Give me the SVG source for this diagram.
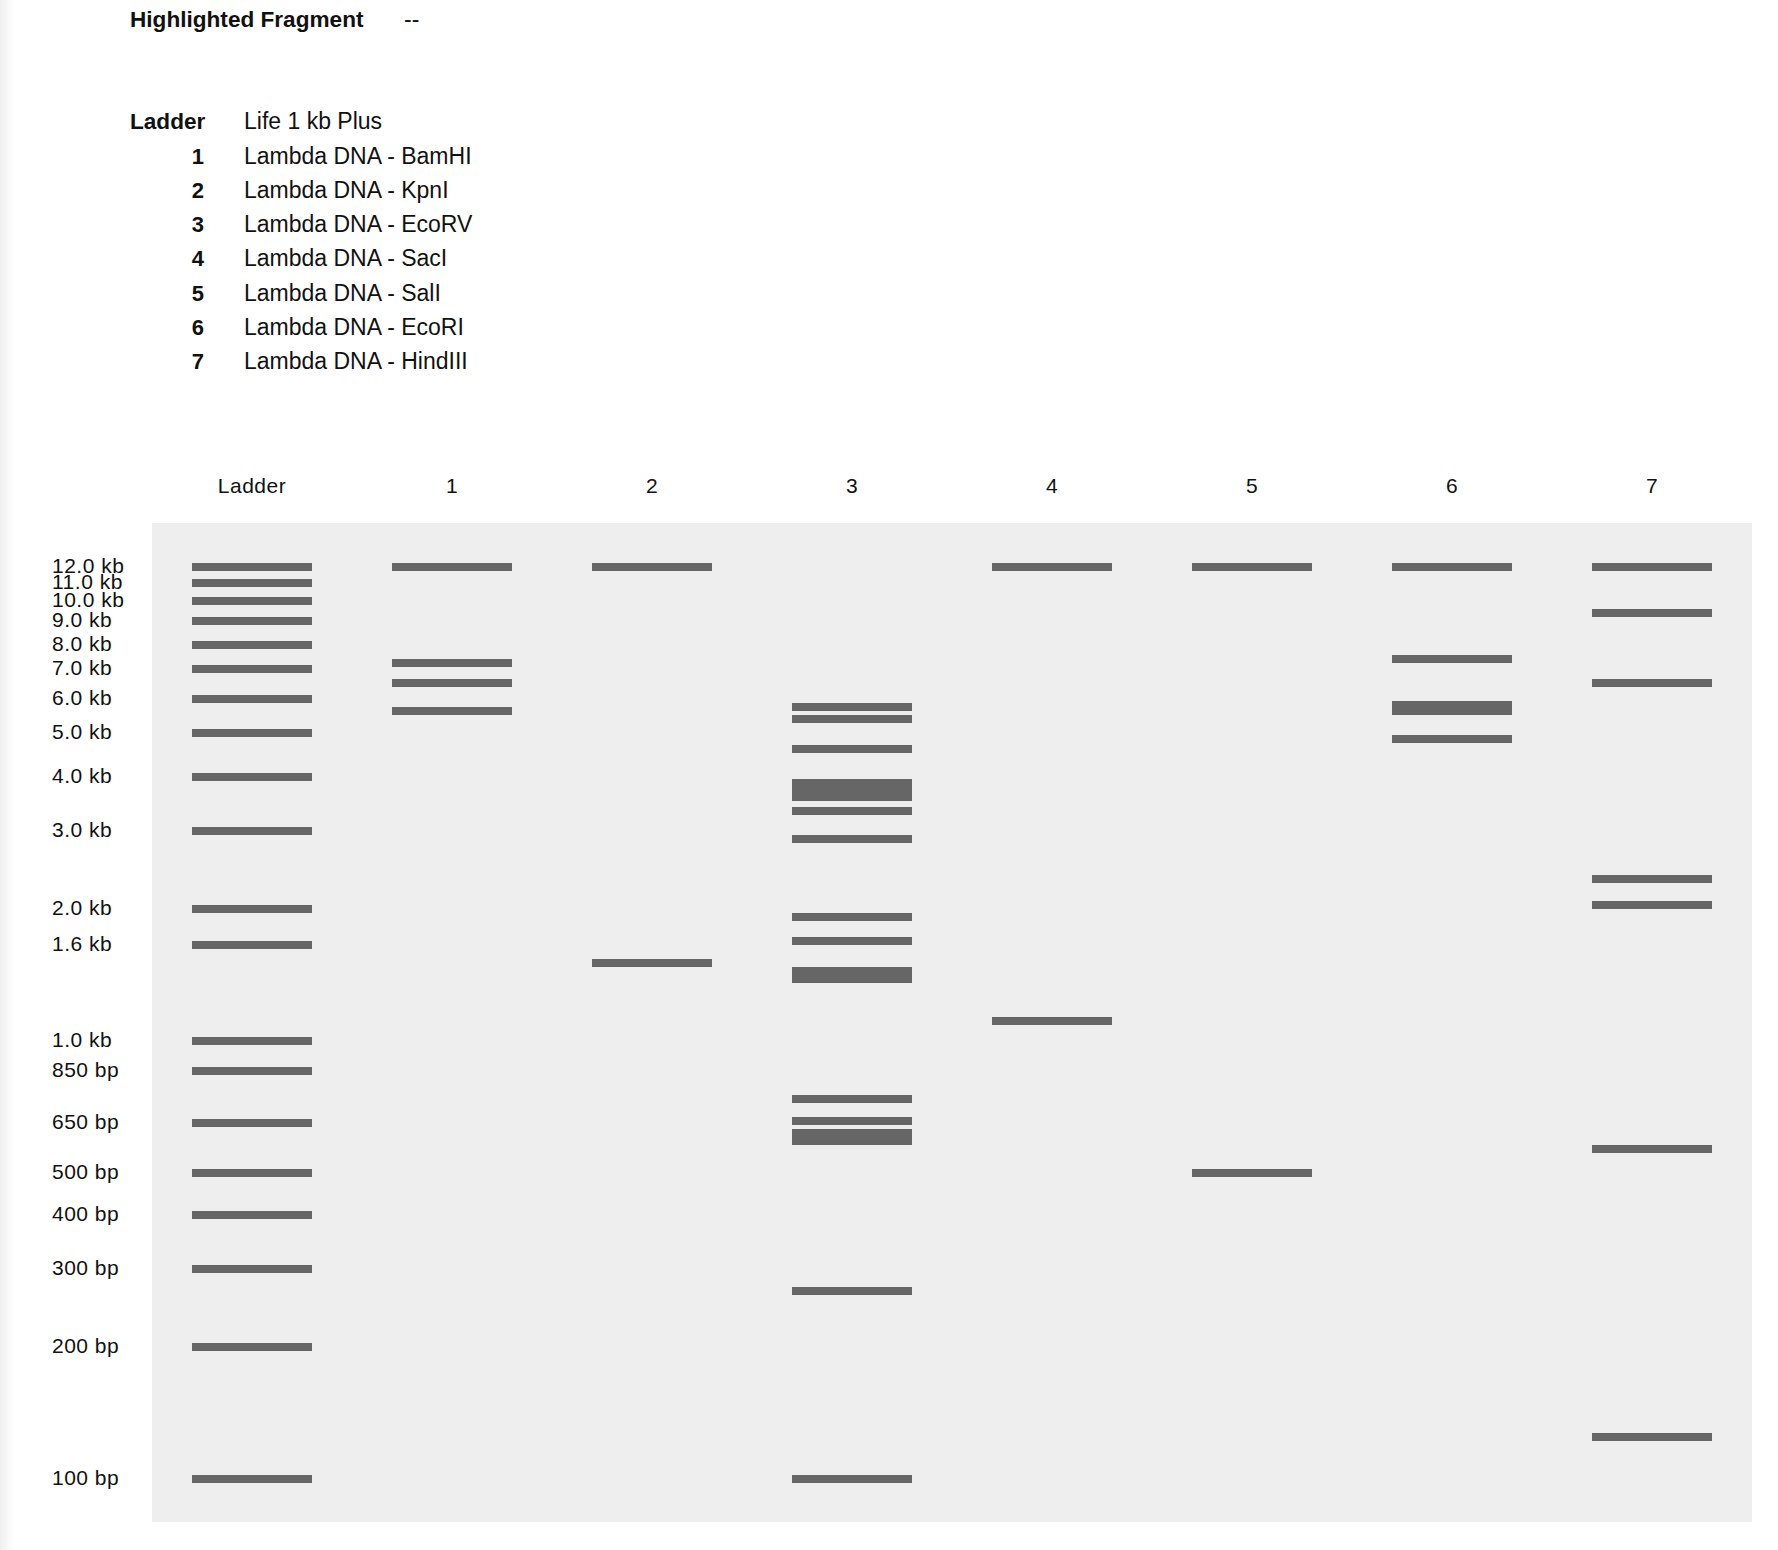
<svg xmlns="http://www.w3.org/2000/svg" width="1778" height="1550" viewBox="0 0 1778 1550">
<style>
text{font-family:"Liberation Sans",Arial,sans-serif;fill:#111}
.lg{font-size:23px}
.b{font-size:22.6px;font-weight:bold}
.num{font-size:22px;font-weight:bold;text-anchor:end}
.lane{font-size:21px;letter-spacing:0.5px;text-anchor:middle}
.sz{font-size:21px;letter-spacing:0.5px}
.band{fill:#666666}
</style>
<defs>
<linearGradient id="edge" x1="0" y1="0" x2="1" y2="0">
<stop offset="0" stop-color="#efefef"/>
<stop offset="1" stop-color="#ffffff"/>
</linearGradient>
</defs>
<rect width="1778" height="1550" fill="#ffffff"/>
<rect x="0" y="0" width="14" height="1550" fill="url(#edge)"/>
<g id="legend">
<text class="lg b" x="130" y="27">Highlighted Fragment</text>
<text class="lg" x="404" y="27">--</text>
<text class="lg b" x="130" y="129">Ladder</text>
<text class="lg" x="244" y="129">Life 1 kb Plus</text>
<text class="num" x="204" y="164">1</text><text class="lg" x="244" y="164">Lambda DNA - BamHI</text>
<text class="num" x="204" y="198">2</text><text class="lg" x="244" y="198">Lambda DNA - KpnI</text>
<text class="num" x="204" y="232">3</text><text class="lg" x="244" y="232">Lambda DNA - EcoRV</text>
<text class="num" x="204" y="266">4</text><text class="lg" x="244" y="266">Lambda DNA - SacI</text>
<text class="num" x="204" y="301">5</text><text class="lg" x="244" y="301">Lambda DNA - SalI</text>
<text class="num" x="204" y="335">6</text><text class="lg" x="244" y="335">Lambda DNA - EcoRI</text>
<text class="num" x="204" y="369">7</text><text class="lg" x="244" y="369">Lambda DNA - HindIII</text>
</g>
<g id="lane-labels">
<text class="lane" x="252" y="493">Ladder</text>
<text class="lane" x="452" y="493">1</text>
<text class="lane" x="652" y="493">2</text>
<text class="lane" x="852" y="493">3</text>
<text class="lane" x="1052" y="493">4</text>
<text class="lane" x="1252" y="493">5</text>
<text class="lane" x="1452" y="493">6</text>
<text class="lane" x="1652" y="493">7</text>
</g>
<g id="size-labels">
<text class="sz" x="52" y="573">12.0 kb</text>
<text class="sz" x="52" y="589">11.0 kb</text>
<text class="sz" x="52" y="607">10.0 kb</text>
<text class="sz" x="52" y="627">9.0 kb</text>
<text class="sz" x="52" y="651">8.0 kb</text>
<text class="sz" x="52" y="675">7.0 kb</text>
<text class="sz" x="52" y="705">6.0 kb</text>
<text class="sz" x="52" y="739">5.0 kb</text>
<text class="sz" x="52" y="783">4.0 kb</text>
<text class="sz" x="52" y="837">3.0 kb</text>
<text class="sz" x="52" y="915">2.0 kb</text>
<text class="sz" x="52" y="951">1.6 kb</text>
<text class="sz" x="52" y="1047">1.0 kb</text>
<text class="sz" x="52" y="1077">850 bp</text>
<text class="sz" x="52" y="1129">650 bp</text>
<text class="sz" x="52" y="1179">500 bp</text>
<text class="sz" x="52" y="1221">400 bp</text>
<text class="sz" x="52" y="1275">300 bp</text>
<text class="sz" x="52" y="1353">200 bp</text>
<text class="sz" x="52" y="1485">100 bp</text>
</g>
<rect id="gel" x="152" y="523" width="1600" height="999" fill="#eeeeee"/>
<g id="lane-ladder" class="band">
<rect x="192" y="563" width="120" height="8"/>
<rect x="192" y="579" width="120" height="8"/>
<rect x="192" y="597" width="120" height="8"/>
<rect x="192" y="617" width="120" height="8"/>
<rect x="192" y="641" width="120" height="8"/>
<rect x="192" y="665" width="120" height="8"/>
<rect x="192" y="695" width="120" height="8"/>
<rect x="192" y="729" width="120" height="8"/>
<rect x="192" y="773" width="120" height="8"/>
<rect x="192" y="827" width="120" height="8"/>
<rect x="192" y="905" width="120" height="8"/>
<rect x="192" y="941" width="120" height="8"/>
<rect x="192" y="1037" width="120" height="8"/>
<rect x="192" y="1067" width="120" height="8"/>
<rect x="192" y="1119" width="120" height="8"/>
<rect x="192" y="1169" width="120" height="8"/>
<rect x="192" y="1211" width="120" height="8"/>
<rect x="192" y="1265" width="120" height="8"/>
<rect x="192" y="1343" width="120" height="8"/>
<rect x="192" y="1475" width="120" height="8"/>
</g>
<g id="lane-1" class="band">
<rect x="392" y="563" width="120" height="8"/>
<rect x="392" y="659" width="120" height="8"/>
<rect x="392" y="679" width="120" height="8"/>
<rect x="392" y="707" width="120" height="8"/>
</g>
<g id="lane-2" class="band">
<rect x="592" y="563" width="120" height="8"/>
<rect x="592" y="959" width="120" height="8"/>
</g>
<g id="lane-3" class="band">
<rect x="792" y="703" width="120" height="8"/>
<rect x="792" y="715" width="120" height="8"/>
<rect x="792" y="745" width="120" height="8"/>
<rect x="792" y="779" width="120" height="22"/>
<rect x="792" y="807" width="120" height="8"/>
<rect x="792" y="835" width="120" height="8"/>
<rect x="792" y="913" width="120" height="8"/>
<rect x="792" y="937" width="120" height="8"/>
<rect x="792" y="967" width="120" height="16"/>
<rect x="792" y="1095" width="120" height="8"/>
<rect x="792" y="1117" width="120" height="8"/>
<rect x="792" y="1129" width="120" height="16"/>
<rect x="792" y="1287" width="120" height="8"/>
<rect x="792" y="1475" width="120" height="8"/>
</g>
<g id="lane-4" class="band">
<rect x="992" y="563" width="120" height="8"/>
<rect x="992" y="1017" width="120" height="8"/>
</g>
<g id="lane-5" class="band">
<rect x="1192" y="563" width="120" height="8"/>
<rect x="1192" y="1169" width="120" height="8"/>
</g>
<g id="lane-6" class="band">
<rect x="1392" y="563" width="120" height="8"/>
<rect x="1392" y="655" width="120" height="8"/>
<rect x="1392" y="701" width="120" height="14"/>
<rect x="1392" y="735" width="120" height="8"/>
</g>
<g id="lane-7" class="band">
<rect x="1592" y="563" width="120" height="8"/>
<rect x="1592" y="609" width="120" height="8"/>
<rect x="1592" y="679" width="120" height="8"/>
<rect x="1592" y="875" width="120" height="8"/>
<rect x="1592" y="901" width="120" height="8"/>
<rect x="1592" y="1145" width="120" height="8"/>
<rect x="1592" y="1433" width="120" height="8"/>
</g>
<g id="connectors"/>
</svg>
